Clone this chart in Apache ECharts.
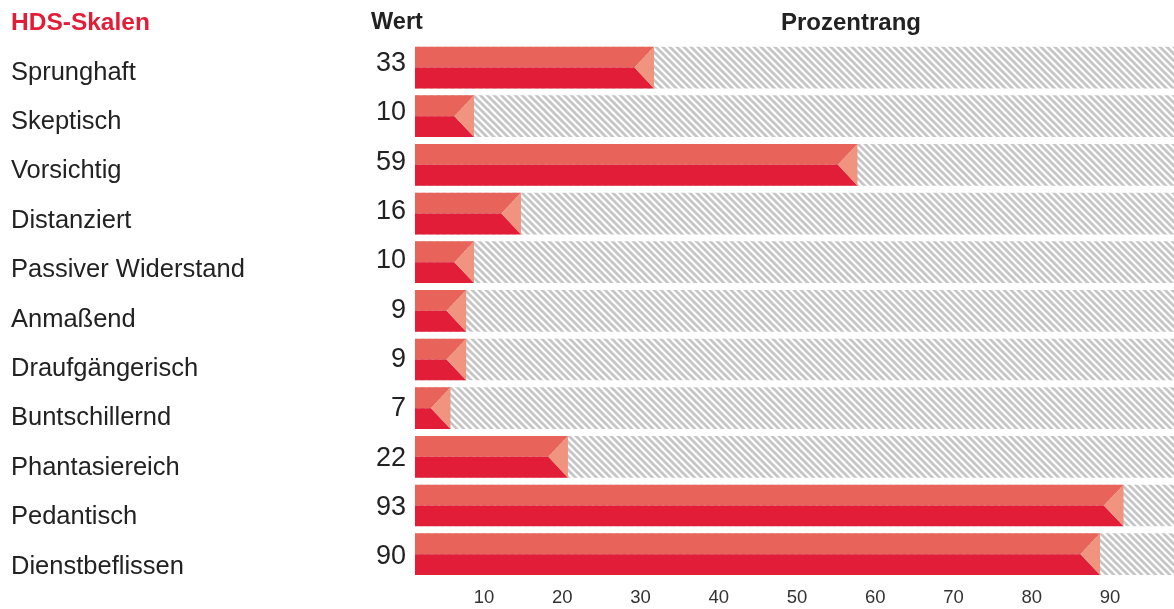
<!DOCTYPE html>
<html>
<head>
<meta charset="utf-8">
<script src="https://cdn.jsdelivr.net/npm/echarts@6/dist/echarts.min.js"></script>
<style>
  html, body { margin: 0; padding: 0; background: #fff; }
  #chart { width: 1174px; height: 609px; }
</style>
</head>
<body>
<div id="chart"></div>
<script>
// HDS scales and their percentile ranks
const scales = ['Sprunghaft', 'Skeptisch', 'Vorsichtig', 'Distanziert', 'Passiver Widerstand',
  'Anmaßend', 'Draufgängerisch', 'Buntschillernd', 'Phantasiereich', 'Pedantisch', 'Dienstbeflissen'];
const values = [33, 10, 59, 16, 10, 9, 9, 7, 22, 93, 90];
const tickValues = [10, 20, 30, 40, 50, 60, 70, 80, 90];

// visible range of the percentile axis
const X_MIN = 2.46;
const X_MAX = 99.45;
const BAR_RATIO = 0.857;

const LIGHT = '#E8645A';
const DARK = '#E21D38';
const TIP = '#F0937F';
const TEXT = '#222222';
const FONT = '"Liberation Sans", Arial, sans-serif';

// diagonal hatch tile for the empty part of each row
function hatchTile() {
  const s = 7;
  const c = document.createElement('canvas');
  c.width = s; c.height = s;
  const g = c.getContext('2d');
  g.fillStyle = '#ffffff';
  g.fillRect(0, 0, s, s);
  g.strokeStyle = '#C6C6C6';
  g.lineWidth = 2.7;
  for (const o of [-s, 0, s]) {
    g.beginPath();
    g.moveTo(-1, o - 1);
    g.lineTo(s + 1, s + o + 1);
    g.stroke();
  }
  return c;
}
const hatch = { image: hatchTile(), repeat: 'repeat' };

// helper for the label-only grids beside the bars
const hiddenX = (gridIndex) => ({ type: 'value', gridIndex, show: false, min: 0, max: 1 });

const chart = echarts.init(document.getElementById('chart'), null, { renderer: 'canvas' });

chart.setOption({
  animation: false,
  grid: [
    { left: 415, right: 0, top: 43.2, bottom: 30.5 },   // bars
    { left: 415, right: 0, top: 48, bottom: 17.8 },     // scale names
    { left: 415, right: 0, top: 38.8, bottom: 27.6 }    // values
  ],
  xAxis: [
    {
      type: 'value',
      gridIndex: 0,
      min: X_MIN,
      max: X_MAX,
      splitLine: { show: false },
      axisLine: { show: false },
      axisTick: { show: false },
      axisLabel: {
        customValues: tickValues,
        margin: 10,
        fontFamily: FONT,
        fontSize: 18.5,
        color: '#333',
        padding: [0, 0, 0, 20]
      }
    },
    hiddenX(1),
    hiddenX(2)
  ],
  yAxis: [
    {
      type: 'category',
      gridIndex: 0,
      inverse: true,
      data: scales,
      axisLine: { show: false },
      axisTick: { show: false },
      axisLabel: { show: false }
    },
    {
      type: 'category',
      gridIndex: 1,
      inverse: true,
      data: scales,
      axisLine: { show: false },
      axisTick: { show: false },
      axisLabel: { align: 'left', margin: 404, fontFamily: FONT, fontSize: 25.5, color: TEXT }
    },
    {
      type: 'category',
      gridIndex: 2,
      inverse: true,
      data: values.map(String),
      axisLine: { show: false },
      axisTick: { show: false },
      axisLabel: { align: 'right', margin: 9, fontFamily: FONT, fontSize: 27, color: TEXT }
    }
  ],
  graphic: [
    { type: 'text', x: 11, y: 23, style: { text: 'HDS-Skalen', font: 'bold 24.5px ' + FONT, fill: DARK, textVerticalAlign: 'middle' } },
    { type: 'text', x: 397, y: 23, style: { text: 'Wert', font: 'bold 23.5px ' + FONT, fill: TEXT, textAlign: 'center', textVerticalAlign: 'middle' } },
    { type: 'text', x: 851, y: 23, style: { text: 'Prozentrang', font: 'bold 24px ' + FONT, fill: TEXT, textAlign: 'center', textVerticalAlign: 'middle' } }
  ],
  series: [
    {
      // hatched track across the full range
      type: 'custom',
      silent: true,
      xAxisIndex: 0,
      yAxisIndex: 0,
      data: values.map((v, i) => [X_MAX, i]),
      encode: { x: 0, y: 1 },
      renderItem(params, api) {
        const idx = api.value(1);
        const a = api.coord([X_MIN, idx]);
        const b = api.coord([X_MAX, idx]);
        const h = api.size([0, 1])[1] * BAR_RATIO;
        return { type: 'rect', shape: { x: a[0], y: a[1] - h / 2, width: b[0] - a[0], height: h }, style: { fill: hatch } };
      }
    },
    {
      // two-tone bar with chevron tip
      type: 'custom',
      silent: true,
      xAxisIndex: 0,
      yAxisIndex: 0,
      data: values.map((v, i) => [v, i]),
      encode: { x: 0, y: 1 },
      renderItem(params, api) {
        const v = api.value(0);
        const idx = api.value(1);
        const start = api.coord([X_MIN, idx]);
        const end = api.coord([v, idx]);
        const h = api.size([0, 1])[1] * BAR_RATIO;
        const top = end[1] - h / 2, mid = end[1], bot = end[1] + h / 2;
        const x0 = start[0], x1 = end[0], tip = x1 - h * 0.47;
        return {
          type: 'group',
          children: [
            { type: 'polygon', shape: { points: [[x0, top], [x1, top], [tip, mid], [x0, mid]] }, style: { fill: LIGHT } },
            { type: 'polygon', shape: { points: [[x0, mid], [tip, mid], [x1, bot], [x0, bot]] }, style: { fill: DARK } },
            { type: 'polygon', shape: { points: [[x1, top], [x1, bot], [tip, mid]] }, style: { fill: TIP } }
          ]
        };
      }
    }
  ]
});
</script>
</body>
</html>
